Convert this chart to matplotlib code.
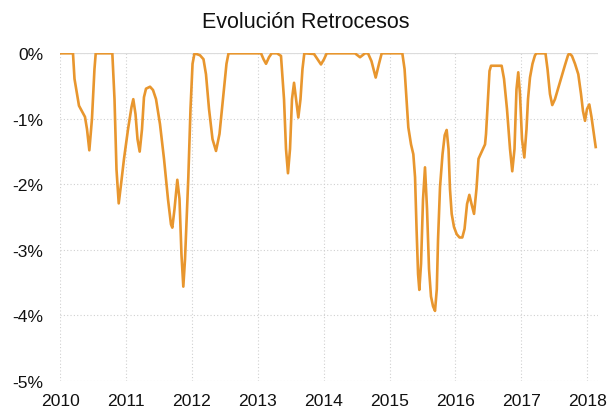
import matplotlib.pyplot as plt
import numpy as np

# fecha (año decimal) y retroceso (%)
fechas = [
    2010.02, 2010.197, 2010.22, 2010.288, 2010.379, 2010.41, 2010.445, 2010.485, 2010.523, 2010.542,
    2010.794, 2010.827, 2010.857, 2010.891, 2010.926, 2010.971, 2011.032, 2011.085, 2011.112, 2011.146,
    2011.176, 2011.209, 2011.244, 2011.274, 2011.305, 2011.366, 2011.411, 2011.457, 2011.517, 2011.578,
    2011.639, 2011.684, 2011.704, 2011.737, 2011.780, 2011.813, 2011.843, 2011.871, 2011.897, 2011.947,
    2011.980, 2012.011, 2012.041, 2012.124, 2012.177, 2012.215, 2012.261, 2012.314, 2012.367, 2012.420,
    2012.481, 2012.526, 2012.557, 2013.05, 2013.088, 2013.126, 2013.171, 2013.212, 2013.293, 2013.353,
    2013.399, 2013.429, 2013.459, 2013.490, 2013.520, 2013.551, 2013.581, 2013.616, 2013.649, 2013.679,
    2013.707, 2013.854, 2013.907, 2013.960, 2014.006, 2014.047, 2014.476, 2014.552, 2014.628, 2014.673,
    2014.726, 2014.790, 2014.840, 2014.881, 2015.194, 2015.228, 2015.258, 2015.285, 2015.326, 2015.361,
    2015.387, 2015.410, 2015.433, 2015.452, 2015.478, 2015.508, 2015.538, 2015.569, 2015.599, 2015.629,
    2015.660, 2015.690, 2015.717, 2015.736, 2015.766, 2015.804, 2015.837, 2015.867, 2015.895, 2015.917,
    2015.943, 2015.978, 2016.019, 2016.062, 2016.104, 2016.138, 2016.176, 2016.211, 2016.244, 2016.282,
    2016.319, 2016.350, 2016.372, 2016.418, 2016.449, 2016.464, 2016.494, 2016.517, 2016.540, 2016.701,
    2016.737, 2016.782, 2016.828, 2016.862, 2016.896, 2016.926, 2016.953, 2016.979, 2017.010, 2017.045,
    2017.078, 2017.101, 2017.131, 2017.169, 2017.207, 2017.230, 2017.366, 2017.397, 2017.434, 2017.469,
    2017.510, 2017.586, 2017.662, 2017.708, 2017.727, 2017.768, 2017.814, 2017.864, 2017.905, 2017.935,
    2017.966, 2017.996, 2018.031, 2018.064, 2018.095, 2018.128,
]
retroceso = [
    0, 0, -0.39, -0.80, -0.97, -1.16, -1.48, -1.0, -0.24, 0,
    0, -0.70, -1.77, -2.29, -2.0, -1.61, -1.16, -0.82, -0.70, -0.93,
    -1.31, -1.50, -1.16, -0.67, -0.54, -0.51, -0.56, -0.70, -1.08, -1.61,
    -2.23, -2.61, -2.66, -2.38, -1.93, -2.22, -3.07, -3.56, -3.14, -1.89,
    -0.85, -0.16, 0, -0.03, -0.09, -0.32, -0.85, -1.31, -1.49, -1.23,
    -0.62, -0.16, 0, 0, -0.09, -0.16, -0.06, 0, 0, -0.04,
    -0.70, -1.46, -1.83, -1.46, -0.70, -0.45, -0.70, -0.98, -0.70, -0.24,
    0, -0.01, -0.09, -0.17, -0.09, 0, 0, -0.06, 0, 0,
    -0.12, -0.37, -0.16, 0, 0, -0.24, -0.70, -1.13, -1.39, -1.54,
    -1.89, -2.68, -3.37, -3.61, -3.21, -2.23, -1.74, -2.38, -3.29, -3.71,
    -3.86, -3.93, -3.60, -2.84, -2.04, -1.54, -1.25, -1.17, -1.46, -2.07,
    -2.45, -2.65, -2.76, -2.81, -2.81, -2.68, -2.30, -2.16, -2.30, -2.45,
    -2.07, -1.61, -1.56, -1.46, -1.39, -1.23, -0.70, -0.27, -0.19, -0.19,
    -0.39, -0.85, -1.46, -1.80, -1.46, -0.55, -0.29, -0.62, -1.31, -1.59,
    -1.16, -0.70, -0.37, -0.16, -0.03, 0, 0, -0.24, -0.62, -0.79,
    -0.70, -0.44, -0.18, -0.03, 0, -0.04, -0.16, -0.32, -0.62, -0.88,
    -1.03, -0.85, -0.78, -0.97, -1.19, -1.43,
]
anios = list(range(2010, 2019))
niveles = [0, -1, -2, -3, -4, -5]

plt.rcParams['font.family'] = ['Liberation Sans', 'DejaVu Sans']

fig = plt.figure(figsize=(6.11, 4.10), dpi=100)
ax = fig.add_axes([60/611, 28/410, 538/611, 327.7/410])

ax.plot(fechas, retroceso, color='#E8962E', lw=1.9, solid_joinstyle='round', zorder=3)

ax.set_xlim(2010, 2018.163)
ax.set_ylim(-5, 0)
ax.set_xticks(anios)
ax.set_xticklabels([str(a) for a in anios])
ax.set_yticks(niveles)
ax.set_yticklabels(['%d%%' % n if n == 0 else '-%d%%' % abs(n) for n in niveles])

ax.grid(True, color='#d0d0d0', ls=(0, (1, 2)), lw=0.8)
ax.axhline(0, color='#dcdcdc', lw=1.6, zorder=2)
for s in ax.spines.values():
    s.set_visible(False)
ax.tick_params(length=0, labelsize=12.6, colors='#111111')
ax.tick_params(axis='y', pad=12)
ax.tick_params(axis='x', pad=8.5)

fig.text(0.5, 1 - 28.3/410, 'Evolución Retrocesos', ha='center', va='baseline', fontsize=15.5, color='#111111')

fig.savefig('out.png', dpi=100)
